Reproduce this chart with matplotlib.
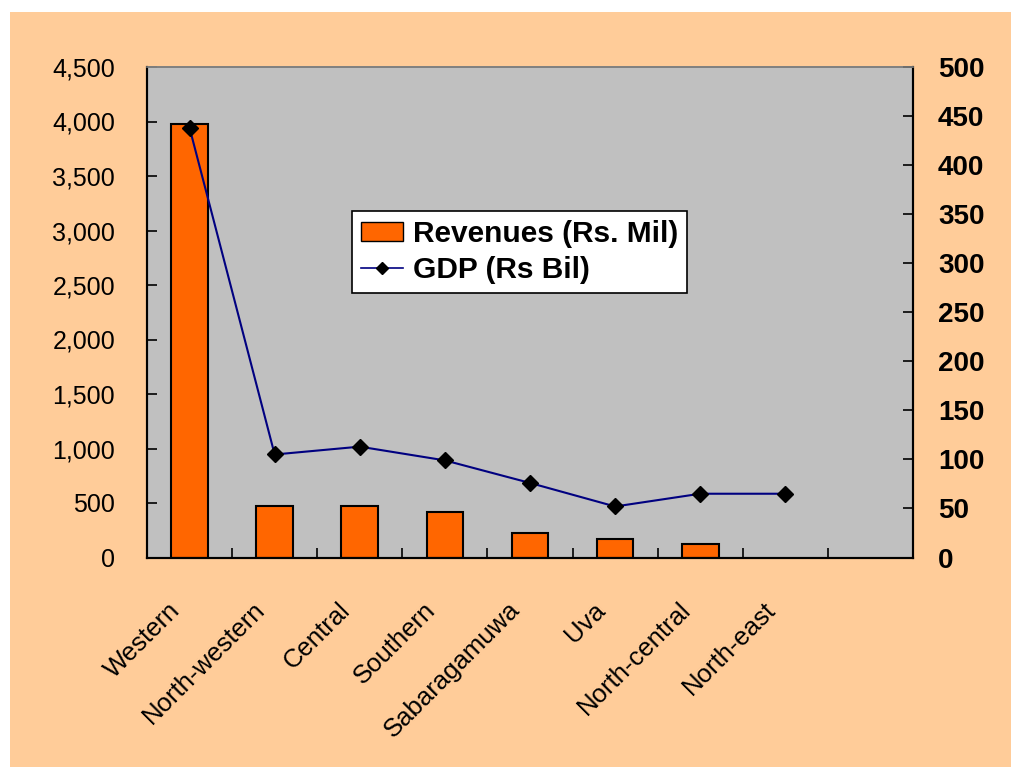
import numpy as np
import matplotlib.pyplot as plt
from matplotlib.patches import Rectangle, Patch
from matplotlib.lines import Line2D
from matplotlib.ticker import FuncFormatter
from matplotlib.transforms import ScaledTranslation

# Provincial revenues (Rs. Mil) and GDP (Rs Bil)
regions = ['Western', 'North-western', 'Central', 'Southern', 'Sabaragamuwa',
           'Uva', 'North-central', 'North-east', '']
revenues = [3980, 470, 470, 415, 222, 168, 125, np.nan, np.nan]
gdp = [438, 105, 113, 99, 76, 52, 65, 65, np.nan]

plt.rcParams['font.family'] = ['Liberation Sans', 'DejaVu Sans']

fig = plt.figure(figsize=(10.12, 7.67), dpi=100, facecolor='white')
# peach panel behind the chart
fig.patches.append(Rectangle((10 / 1012, 0), 1, 1 - 12 / 767,
                             transform=fig.transFigure, facecolor='#FFCC99',
                             edgecolor='none', zorder=-10))

ax = fig.add_axes([147 / 1012, 1 - 557.5 / 767, 766 / 1012, 490.5 / 767])
ax.set_facecolor('#C0C0C0')
x = np.arange(len(regions))

ax.bar(x, revenues, width=0.43, color='#FF6600', edgecolor='black',
       linewidth=1.5, zorder=2)
ax.set_xlim(-0.5, len(regions) - 0.5)
ax.set_ylim(0, 4500)
ax.set_yticks(np.arange(0, 4501, 500))
ax.yaxis.set_major_formatter(FuncFormatter(lambda v, p: f'{int(v):,}'))
ax.tick_params(axis='y', direction='in', length=7, width=1.2, pad=23,
               labelsize=18)

# tick marks between categories, labels under each category
ax.set_xticks(np.arange(-0.5, len(regions), 1.0))
ax.set_xticklabels([])
ax.set_xticks(x, minor=True)
ax.set_xticklabels(regions, minor=True, rotation=45, ha='right',
                   rotation_mode='anchor', fontsize=18.5)
ax.tick_params(axis='x', which='major', direction='in', length=7, width=1.2)
ax.tick_params(axis='x', which='minor', length=0, pad=29)
shift = ScaledTranslation(-22 / 100, 0, fig.dpi_scale_trans)
for lbl in ax.get_xticklabels(minor=True):
    lbl.set_transform(lbl.get_transform() + shift)

ax2 = ax.twinx()
ax2.plot(x, gdp, color='#000080', linewidth=1.5, marker='D', markersize=8,
         markerfacecolor='black', markeredgecolor='black', zorder=3)
ax2.set_ylim(0, 500)
ax2.set_yticks(np.arange(0, 501, 50))
ax2.tick_params(axis='y', direction='in', length=7, width=1.2, pad=18,
                labelsize=20)
for lbl in ax2.get_yticklabels():
    lbl.set_fontweight('bold')

for a in (ax, ax2):
    a.spines['top'].set_color('#808080')
    a.spines['top'].set_linewidth(1.2)
    for s in ('left', 'right', 'bottom'):
        a.spines[s].set_color('black')
        a.spines[s].set_linewidth(1.5)

handles = [Patch(facecolor='#FF6600', edgecolor='black', linewidth=1),
           Line2D([], [], color='#000080', linewidth=1.2, marker='D',
                  markersize=6, markerfacecolor='black',
                  markeredgecolor='black')]
leg = ax2.legend(handles, ['Revenues (Rs. Mil)', 'GDP (Rs Bil)'],
                 loc='upper left', bbox_to_anchor=(0.2676, 0.706),
                 prop={'weight': 'bold', 'size': 21.5}, frameon=True,
                 fancybox=False, framealpha=1, borderpad=0.3,
                 labelspacing=0.25, handlelength=1.4, handleheight=0.6,
                 handletextpad=0.35, borderaxespad=0)
leg.get_frame().set_edgecolor('black')
leg.get_frame().set_linewidth(1.2)
leg.get_frame().set_facecolor('white')

fig.savefig('out.png', dpi=100, facecolor='white')
